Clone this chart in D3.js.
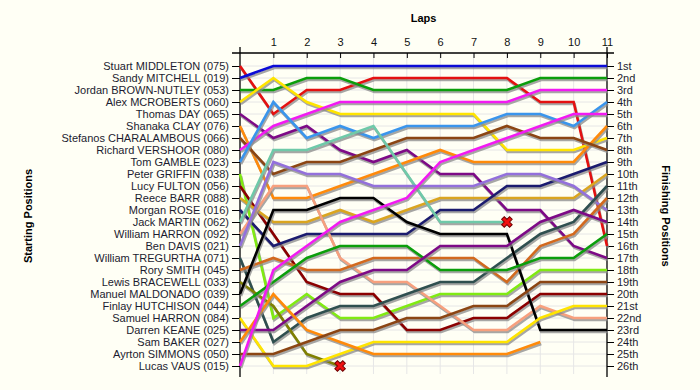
<!DOCTYPE html>
<html>
<head>
<meta charset="utf-8">
<script src="https://cdn.jsdelivr.net/npm/d3@7"></script>
<style>
body { margin: 0; background: #fffff5; }
text { font-family: "Liberation Sans", Arial, sans-serif; }
</style>
</head>
<body>
<svg id="chart" width="700" height="390"></svg>
<script>
// drivers in starting-grid order
let drivers = ["Stuart MIDDLETON (075)", "Sandy MITCHELL (019)", "Jordan BROWN-NUTLEY (053)", "Alex MCROBERTS (060)",
    "Thomas DAY (065)", "Shanaka CLAY (076)", "Stefanos CHARALAMBOUS (066)", "Richard VERSHOOR (080)",
    "Tom GAMBLE (023)", "Peter GRIFFIN (038)", "Lucy FULTON (056)", "Reece BARR (088)", "Morgan ROSE (016)",
    "Jack MARTIN (062)", "William HARRON (092)", "Ben DAVIS (021)", "William TREGURTHA (071)", "Rory SMITH (045)",
    "Lewis BRACEWELL (033)", "Manuel MALDONADO (039)", "Finlay HUTCHISON (044)", "Samuel HARRON (084)",
    "Darren KEANE (025)", "Sam BAKER (027)", "Ayrton SIMMONS (050)", "Lucas VAUS (015)"];

let laps = [0, 1, 2, 3, 4, 5, 6, 7, 8, 9, 10, 11];

// position of each driver at the end of each lap (lap 0 = grid)
let positions = [
    [1, 5, 3, 3, 2, 2, 2, 2, 2, 4, 4, 16],
    [2, 1, 1, 1, 1, 1, 1, 1, 1, 1, 1, 1],
    [3, 3, 2, 2, 3, 3, 3, 3, 3, 2, 2, 2],
    [4, 2, 4, 5, 5, 5, 5, 5, 8, 8, 8, 7],
    [5, 7, 6, 8, 9, 8, 10, 10, 13, 13, 16, 17],
    [6, 12, 12, 11, 10, 9, 8, 9, 9, 9, 9, 6],
    [7, 10, 9, 9, 8, 7, 7, 7, 6, 7, 7, 8],
    [8, 6, 5, 4, 4, 4, 4, 4, 4, 3, 3, 3],
    [9, 4, 7, 6, 7, 6, 6, 6, 5, 5, 6, 4],
    [10, 22, 20, 22, 22, 21, 20, 20, 20, 18, 18, 18],
    [11, 15, 19, 20, 20, 23, 23, 22, 22, 20, 20, 20],
    [12, 14, 14, 13, 14, 13, 12, 12, 12, 12, 12, 10],
    [13, 16, 15, 15, 15, 15, 13, 13, 11, 11, 10, 9],
    [14, 8, 8, 7, 6, 10, 14, 14, 14],
    [15, 11, 11, 17, 19, 19, 21, 23, 23, 21, 22, 22],
    [16, 9, 10, 10, 11, 11, 11, 11, 10, 10, 11, 13],
    [17, 24, 22, 21, 21, 20, 19, 19, 17, 15, 14, 11],
    [18, 17, 18, 18, 17, 17, 17, 17, 19, 16, 15, 12],
    [19, 21, 25, 26],
    [20, 13, 13, 12, 12, 14, 15, 15, 15, 23, 23, 23],
    [21, 19, 17, 16, 16, 16, 18, 18, 18, 17, 17, 15],
    [22, 26, 26, 25, 24, 24, 24, 24, 24, 22, 21, 21],
    [23, 23, 21, 19, 18, 18, 16, 16, 16, 14, 13, 14],
    [24, 20, 23, 24, 25, 25, 25, 25, 25, 24],
    [25, 25, 24, 23, 23, 22, 22, 21, 21, 19, 19, 19],
    [26, 18, 16, 14, 13, 12, 9, 8, 7, 6, 5, 5]
];

// drivers marked as retired (X at their last point)
let retired = ["Lewis BRACEWELL (033)", "Jack MARTIN (062)"];

let places = ["1st", "2nd", "3rd", "4th", "5th", "6th", "7th", "8th", "9th", "10th", "11th", "12th", "13th",
    "14th", "15th", "16th", "17th", "18th", "19th", "20th", "21st", "22nd", "23rd", "24th", "25th", "26th"];

let colors = ["#e41010", "#0b0bd6", "#0b9e0b", "#ffe400", "#7d0a86", "#ff8a0a", "#8b4513", "#f21af2",
    "#3a95ec", "#80ea12", "#8b0000", "#daa520", "#1b1b6e", "#6fc9a9", "#f7a07e", "#9370db", "#2f4f4f",
    "#d2691e", "#808000", "#000000", "#0b9e0b", "#ffe400", "#7d0a86", "#ff8a0a", "#8b4513", "#f21af2"];

const svg = d3.select("#chart");
const width = 700, height = 390;

let x = d3.scaleLinear().domain([0, 11]).range([240, 607]);
let y = d3.scaleLinear().domain([1, 26]).range([66, 366]);
let rows = d3.range(1, 27);

// grid
svg.append("g").selectAll("line")
    .data(rows)
    .enter().append("line")
    .attr("x1", x(0)).attr("x2", x(11))
    .attr("y1", d => y(d)).attr("y2", d => y(d))
    .attr("stroke", "#e6e6e6");

svg.append("g").selectAll("line")
    .data(laps.slice(1, 11))
    .enter().append("line")
    .attr("x1", d => x(d)).attr("x2", d => x(d))
    .attr("y1", 53).attr("y2", 374)
    .attr("stroke", "#e6e6e6");

// top axis (laps)
let xAxis = d3.axisTop(x)
    .tickValues(laps.slice(1))
    .tickSizeInner(-5)
    .tickSizeOuter(0)
    .tickPadding(7);

let gx = svg.append("g")
    .attr("transform", "translate(0,53)")
    .call(xAxis);
gx.select(".domain").remove();
gx.selectAll("text").attr("font-size", 11).attr("fill", "#111").attr("font-family", "Liberation Sans, Arial, sans-serif");

svg.append("line")
    .attr("x1", 232).attr("x2", 614).attr("y1", 53).attr("y2", 53)
    .attr("stroke", "#000").attr("stroke-width", 1.3);

// left axis (starting positions)
let yLeft = d3.axisLeft(y)
    .tickValues(rows)
    .tickFormat(d => drivers[d - 1])
    .tickSizeInner(8)
    .tickSizeOuter(0)
    .tickPadding(3);

let gl = svg.append("g")
    .attr("transform", "translate(" + x(0) + ",0)")
    .call(yLeft);
gl.select(".domain").remove();
gl.selectAll("text").attr("font-size", 11).attr("fill", "#1c1c30").attr("font-family", "Liberation Sans, Arial, sans-serif");

// right axis (finishing positions)
let yRight = d3.axisRight(y)
    .tickValues(rows)
    .tickFormat(d => places[d - 1])
    .tickSizeInner(7)
    .tickSizeOuter(0)
    .tickPadding(3);

let gr = svg.append("g")
    .attr("transform", "translate(" + x(11) + ",0)")
    .call(yRight);
gr.select(".domain").remove();
gr.selectAll("text").attr("font-size", 11).attr("fill", "#1c1c30").attr("font-family", "Liberation Sans, Arial, sans-serif");

// borders at lap 0 and 11
svg.selectAll(".border")
    .data([0, 11])
    .enter().append("line")
    .attr("class", "border")
    .attr("x1", d => x(d)).attr("x2", d => x(d))
    .attr("y1", 47).attr("y2", 377)
    .attr("stroke", "#000").attr("stroke-width", 1.3);

// lines
let line = d3.line()
    .x((d, i) => x(laps[i]))
    .y(d => y(d));

let series = drivers.map((name, i) => ({ name: name, pos: positions[i], color: colors[i] }));

let g = svg.append("g");
series.forEach(s => {
    g.append("path")
        .attr("d", line(s.pos))
        .attr("fill", "none")
        .attr("stroke", "#8a8a8a")
        .attr("stroke-opacity", 0.75)
        .attr("stroke-width", 2.6)
        .attr("transform", "translate(1,2)");
    g.append("path")
        .attr("d", line(s.pos))
        .attr("fill", "none")
        .attr("stroke", s.color)
        .attr("stroke-width", 2.6);
});

// retirement markers
let cross = d3.symbol().type(d3.symbolCross).size(70);
series.filter(s => retired.includes(s.name)).forEach(s => {
    let last = s.pos.length - 1;
    svg.append("path")
        .attr("d", cross())
        .attr("transform", "translate(" + x(laps[last]) + "," + y(s.pos[last]) + ") rotate(45)")
        .attr("fill", "#f01010")
        .attr("stroke", "#700000")
        .attr("stroke-width", 1);
});

// titles
svg.append("text")
    .attr("x", (x(0) + x(11)) / 2).attr("y", 22)
    .attr("text-anchor", "middle")
    .attr("font-size", 11).attr("font-weight", "bold")
    .text("Laps");

svg.append("text")
    .attr("transform", "translate(32," + (y(1) + y(26)) / 2 + ") rotate(-90)")
    .attr("text-anchor", "middle")
    .attr("font-size", 11).attr("font-weight", "bold")
    .text("Starting Positions");

svg.append("text")
    .attr("transform", "translate(662," + (y(1) + y(26)) / 2 + ") rotate(90)")
    .attr("text-anchor", "middle")
    .attr("font-size", 11).attr("font-weight", "bold")
    .text("Finishing Positions");
</script>
</body>
</html>
